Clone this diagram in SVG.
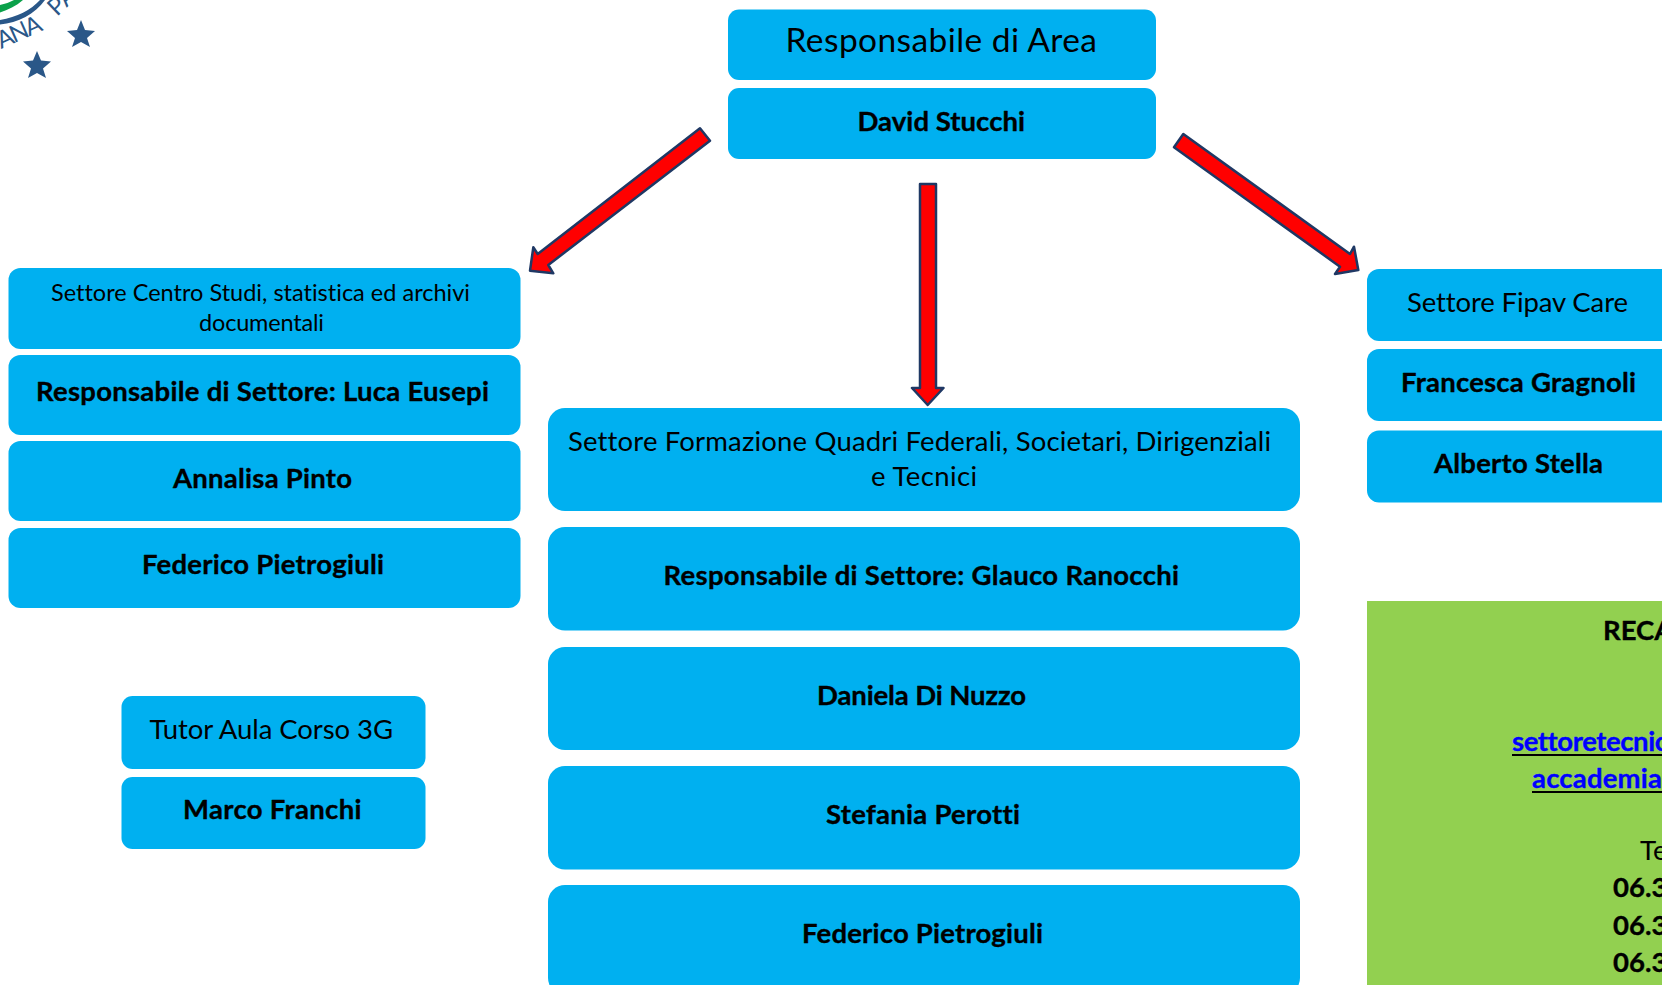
<svg xmlns="http://www.w3.org/2000/svg" width="1662" height="985" viewBox="0 0 1662 985">
<style>
text{font-family:"Lato","Open Sans","Liberation Sans",sans-serif;fill:#000;font-variant-ligatures:none;stroke-linejoin:round}
.b{fill:#00b0f0}
.t{font-weight:700;font-size:27.5px;stroke:#000;stroke-width:.35}
.r{font-size:27.5px}
.s{font-size:23.5px}
.h{font-size:33.5px}
.lnk{fill:#0000ff;font-weight:700;font-size:27.500px;stroke:#0000ff;stroke-width:.35}
.arrow{fill:#ff0000;stroke:#1f3864;stroke-width:2.5;stroke-linejoin:round}
.star{fill:#2a5788}
.logo{fill:#2a5788;font-size:24px}
</style>
<rect width="1662" height="985" fill="#fff"/>
<g id="logo">
<path d="M0 5C5 4 10 2 14 0L23 0C16 6 8 10 0 12.500Z" fill="#0ba14a"/>
<path d="M0 20C17 17 31 10 40 0L45 0C35 14 18 23 0 24.500Z" fill="#2a5788"/>
<text class="logo" transform="translate(1 49) rotate(-24)" textLength="47">ANA</text>
<text class="logo" transform="translate(57 17) rotate(-44)">PA</text>
<polygon class="star" points="81,20 85,30 95,31 87,38 90,47 81,42 72,47 75,38 67,31 77,30"/>
<polygon class="star" points="37,51 41,60.500 51,61.500 43,68.500 46,78 37,73 28,78 31,68.500 23,61.500 33,60.500"/>
</g>
<g id="connectors">
<polygon class="arrow" points="700,128.300 710,140.700 548.300,265 553.300,273.300 530,270.700 533.300,247.300 537.700,254"/>
<polygon class="arrow" points="920,184 936,184 936,388 943.500,388 927.700,405 912,388 920,388"/>
<polygon class="arrow" points="1183.300,134 1174,147.300 1340,266.700 1335,274 1358.300,270 1354,246.700 1350,254"/>
</g>
<g id="n-area"><rect class="b" x="728" y="9.500" width="428" height="70.500" rx="11"/><text class="h" x="785.500" y="52" textLength="311.500">Responsabile di Area</text></g>
<g id="n-stucchi"><rect class="b" x="728" y="88" width="428" height="71" rx="11"/><text class="t" x="857.500" y="131" textLength="167.500">David Stucchi</text></g>
<g id="n-centro"><rect class="b" x="8.500" y="268" width="512" height="81" rx="12"/><text class="s" x="51" y="301" textLength="419">Settore Centro Studi, statistica ed archivi</text><text class="s" x="199" y="331" textLength="125">documentali</text></g>
<g id="n-eusepi"><rect class="b" x="8.500" y="355" width="512" height="80" rx="12"/><text class="t" x="36" y="401" textLength="453">Responsabile di Settore: Luca Eusepi</text></g>
<g id="n-pinto"><rect class="b" x="8.500" y="441" width="512" height="80" rx="12"/><text class="t" x="173" y="488" textLength="179">Annalisa Pinto</text></g>
<g id="n-pietrogiuli1"><rect class="b" x="8.500" y="528" width="512" height="80" rx="12"/><text class="t" x="142" y="574" textLength="242">Federico Pietrogiuli</text></g>
<g id="n-tutor"><rect class="b" x="121.500" y="696" width="304" height="73" rx="11"/><text class="r" x="149.500" y="739" textLength="243.500">Tutor Aula Corso 3G</text></g>
<g id="n-franchi"><rect class="b" x="121.500" y="777" width="304" height="72" rx="11"/><text class="t" x="183" y="819" textLength="178.500">Marco Franchi</text></g>
<g id="n-formazione"><rect class="b" x="548" y="408" width="752" height="103" rx="17"/><text class="r" x="568" y="451" textLength="703">Settore Formazione Quadri Federali, Societari, Dirigenziali</text><text class="r" x="871" y="486" textLength="106">e Tecnici</text></g>
<g id="n-ranocchi"><rect class="b" x="548" y="527" width="752" height="103.500" rx="17"/><text class="t" x="663.500" y="585" textLength="515.500">Responsabile di Settore: Glauco Ranocchi</text></g>
<g id="n-dinuzzo"><rect class="b" x="548" y="647" width="752" height="103" rx="17"/><text class="t" x="817" y="705" textLength="209">Daniela Di Nuzzo</text></g>
<g id="n-perotti"><rect class="b" x="548" y="766" width="752" height="103.500" rx="17"/><text class="t" x="826" y="824" textLength="194">Stefania Perotti</text></g>
<g id="n-pietrogiuli2"><rect class="b" x="548" y="885" width="752" height="110" rx="17"/><text class="t" x="802" y="943" textLength="241">Federico Pietrogiuli</text></g>
<g id="n-care"><rect class="b" x="1367" y="269" width="310" height="72" rx="12"/><text class="r" x="1407" y="312" textLength="221">Settore Fipav Care</text></g>
<g id="n-gragnoli"><rect class="b" x="1367" y="349" width="310" height="72" rx="12"/><text class="t" x="1401" y="392" textLength="235">Francesca Gragnoli</text></g>
<g id="n-stella"><rect class="b" x="1367" y="430.500" width="310" height="72" rx="12"/><text class="t" x="1434" y="473" textLength="169">Alberto Stella</text></g>
<g id="n-recapiti"><rect x="1367" y="601" width="295" height="384" fill="#92d050"/>
<text class="t" x="1603" y="640">RECA</text>
<text class="lnk" x="1512" y="751" textLength="156">settoretecnic</text><rect x="1512" y="754" width="150" height="2"/>
<text class="lnk" x="1532" y="788" textLength="130">accademia</text><rect x="1532" y="791" width="130" height="2"/>
<text class="r" x="1640" y="860">Te</text>
<text class="t" x="1613" y="897">06.3</text>
<text class="t" x="1613" y="935">06.3</text>
<text class="t" x="1613" y="972">06.3</text>
</g>
</svg>
